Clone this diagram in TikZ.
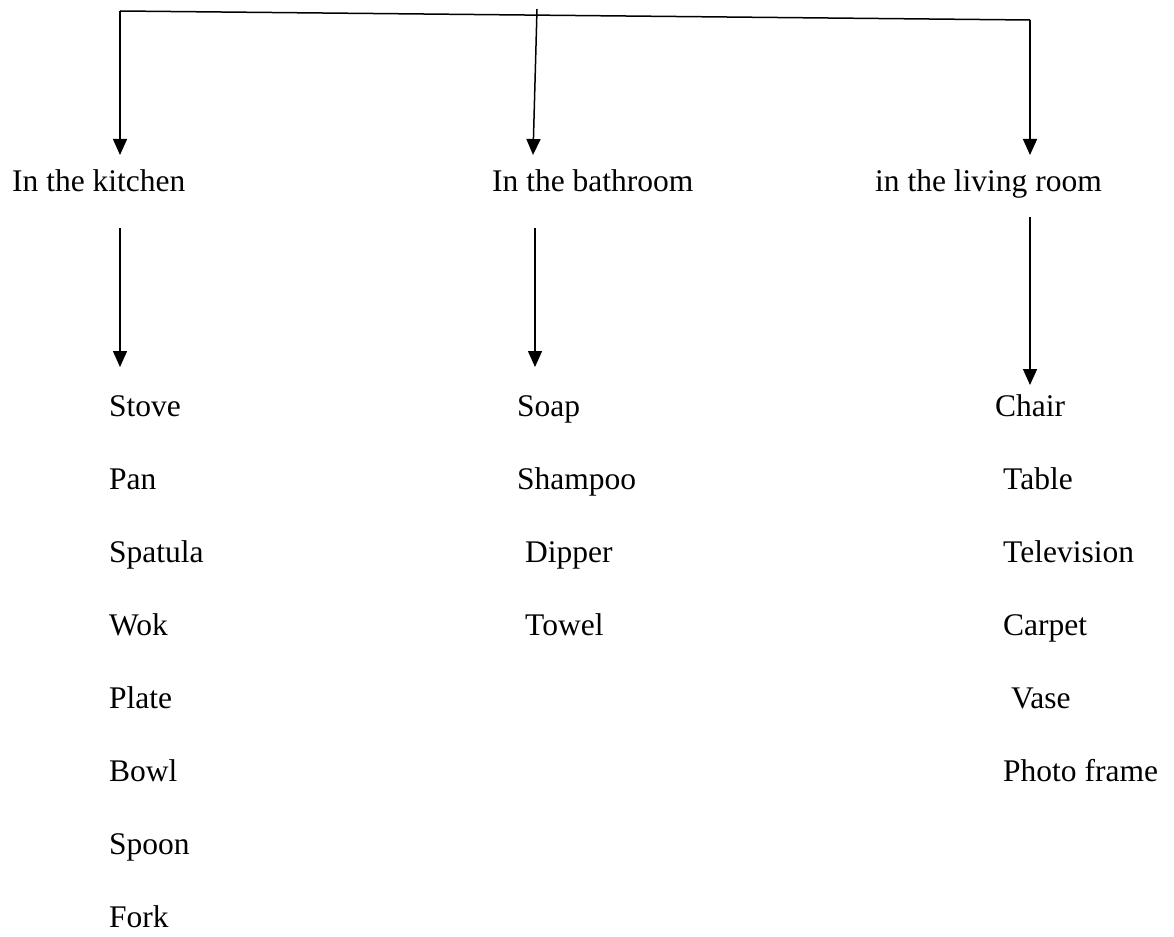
\documentclass[tikz,border=0pt]{standalone}
\usepackage{fontspec}
\setmainfont{Liberation Serif}
\usetikzlibrary{arrows.meta}
\begin{document}
\begin{tikzpicture}[x=1pt,y=-1pt,
  conn/.style={line width=1.5pt, black},
  arr/.style={conn, -{Triangle[width=14pt,length=16pt]}},
  lbl/.style={anchor=base west, inner sep=0pt, font=\fontsize{31.5}{38}\selectfont}]
\useasboundingbox (0,0) rectangle (1174,936);
% bus line
\coordinate (tl) at (120,11);
\coordinate (tm) at (537,9);
\coordinate (tr) at (1030,20);
\coordinate (kt) at (120,155);
\coordinate (bt) at (533,155);
\coordinate (lt) at (1030,155);
\draw[conn] (tl) -- (tr);
\draw[arr] (tl) -- (kt);
\draw[arr] (tm) -- (bt);
\draw[arr] (tr) -- (lt);
% headers
\node[lbl] (hk) at (12,192) {In the kitchen};
\node[lbl] (hb) at (492,192) {In the bathroom};
\node[lbl] (hl) at (875,192) {in the living room};
% second arrows
\coordinate (ks) at (120,228);
\coordinate (ke) at (120,367);
\coordinate (bs) at (535,228);
\coordinate (be) at (535,367);
\coordinate (ls) at (1030,217);
\coordinate (le) at (1030,385);
\draw[arr] (ks) -- (ke);
\draw[arr] (bs) -- (be);
\draw[arr] (ls) -- (le);
% kitchen list
\node[lbl] (k1) at (109,416) {Stove};
\node[lbl] (k2) at (109,489) {Pan};
\node[lbl] (k3) at (109,562) {Spatula};
\node[lbl] (k4) at (109,635) {Wok};
\node[lbl] (k5) at (109,708) {Plate};
\node[lbl] (k6) at (109,781) {Bowl};
\node[lbl] (k7) at (109,854) {Spoon};
\node[lbl] (k8) at (109,927) {Fork};
% bathroom list
\node[lbl] (b1) at (517,416) {Soap};
\node[lbl] (b2) at (517,489) {Shampoo};
\node[lbl] (b3) at (525,562) {Dipper};
\node[lbl] (b4) at (525,635) {Towel};
% living room list
\node[lbl] (l1) at (995,416) {Chair};
\node[lbl] (l2) at (1003,489) {Table};
\node[lbl] (l3) at (1003,562) {Television};
\node[lbl] (l4) at (1003,635) {Carpet};
\node[lbl] (l5) at (1011,708) {Vase};
\node[lbl] (l6) at (1003,781) {Photo frame};
\end{tikzpicture}
\end{document}
